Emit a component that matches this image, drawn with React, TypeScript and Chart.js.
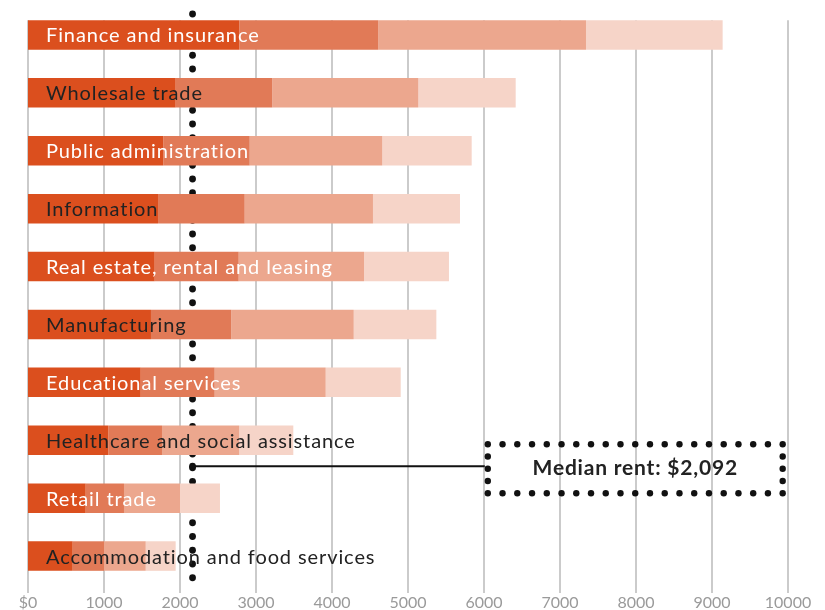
import React, { useEffect, useRef } from "react";
import { Chart, registerables } from "chart.js";

Chart.register(...registerables);

const categories = [
  "Finance and insurance",
  "Wholesale trade",
  "Public administration",
  "Information",
  "Real estate, rental and leasing",
  "Manufacturing",
  "Educational services",
  "Healthcare and social assistance",
  "Retail trade",
  "Accommodation and food services",
];

const segment1 = [2781, 1943, 1781, 1711, 1667, 1618, 1483, 1057, 759, 588];
const segment2 = [1829, 1272, 1136, 1140, 1105, 1057, 973, 706, 504, 412];
const segment3 = [2732, 1921, 1745, 1688, 1649, 1611, 1461, 1017, 737, 549];
const segment4 = [1798, 1281, 1176, 1145, 1118, 1087, 987, 711, 526, 394];

const segmentColors = ["#DB4F1E", "#E17A57", "#ECA78E", "#F6D4C8"];
const labelColors = ["#ffffff", "#222222"];

const xTicks = [0, 1000, 2000, 3000, 4000, 5000, 6000, 7000, 8000, 9000, 10000];
const medianRent = 2092;
const medianLineValue = 2165;
const calloutLeftValue = 6050;
const calloutRightValue = 9930;

const fmtTick = (v: number) => (v === 0 ? "$0" : String(v));

const overlayPlugin = {
  id: "overlay",
  beforeDatasetsDraw(chart: any) {
    const { ctx, chartArea, scales } = chart;
    const x = scales.x;
    const meta = chart.getDatasetMeta(0);
    const first = meta.data[0];
    const top = first.y - first.height / 2;
    ctx.save();
    ctx.strokeStyle = "#cbcbcb";
    ctx.lineWidth = 2;
    xTicks.forEach((t) => {
      const px = Math.round(x.getPixelForValue(t));
      ctx.beginPath();
      ctx.moveTo(px, top);
      ctx.lineTo(px, chartArea.bottom + 8);
      ctx.stroke();
    });
    const mx = x.getPixelForValue(medianLineValue);
    ctx.fillStyle = "#111";
    for (let y = 14; y <= chartArea.bottom + 6; y += 13.75) {
      ctx.beginPath();
      ctx.arc(mx, y, 3.4, 0, Math.PI * 2);
      ctx.fill();
    }
    ctx.restore();
  },
  afterDatasetsDraw(chart: any) {
    const { ctx, chartArea, scales } = chart;
    const x = scales.x;
    const y = scales.y;
    const meta = chart.getDatasetMeta(0);
    ctx.save();
    ctx.font = "20px Lato";
    ctx.textBaseline = "middle";
    ctx.textAlign = "left";
    try {
      (ctx as any).letterSpacing = "0.9px";
    } catch (e) {}
    categories.forEach((c, i) => {
      const bar = meta.data[i];
      ctx.fillStyle = labelColors[i % 2];
      ctx.fillText(c, chartArea.left + 18, bar.y + 1);
    });

    const cy = (y.getPixelForValue(7) + y.getPixelForValue(8)) / 2 - 3;
    const mx = x.getPixelForValue(medianLineValue);
    const bl = x.getPixelForValue(calloutLeftValue);
    const br = x.getPixelForValue(calloutRightValue);
    const bt = cy - 22;
    const bb = cy + 27;
    ctx.strokeStyle = "#111";
    ctx.lineWidth = 2;
    ctx.beginPath();
    ctx.moveTo(mx, cy);
    ctx.lineTo(bl - 3, cy);
    ctx.stroke();
    ctx.fillStyle = "#111";
    ctx.beginPath();
    ctx.arc(mx, cy, 3.4, 0, Math.PI * 2);
    ctx.fill();
    const nH = 21;
    for (let k = 0; k < nH; k++) {
      const px = bl + ((br - bl) * k) / (nH - 1);
      [bt, bb].forEach((py) => {
        ctx.beginPath();
        ctx.arc(px, py, 3.2, 0, Math.PI * 2);
        ctx.fill();
      });
    }
    const nV = 5;
    for (let k = 1; k < nV - 1; k++) {
      const py = bt + ((bb - bt) * k) / (nV - 1);
      [bl, br].forEach((px) => {
        ctx.beginPath();
        ctx.arc(px, py, 3.2, 0, Math.PI * 2);
        ctx.fill();
      });
    }
    try {
      (ctx as any).letterSpacing = "0.8px";
    } catch (e) {}
    ctx.fillStyle = "#222";
    ctx.font = "bold 21px Lato";
    ctx.textAlign = "center";
    ctx.textBaseline = "middle";
    ctx.fillText(
      "Median rent: $" + medianRent.toLocaleString("en-US"),
      (bl + br) / 2,
      (bt + bb) / 2
    );
    ctx.restore();
  },
};

export default function App() {
  const ref = useRef<HTMLCanvasElement | null>(null);
  useEffect(() => {
    if (!ref.current) return;
    const series = [segment1, segment2, segment3, segment4];
    const chart = new Chart(ref.current, {
      type: "bar",
      data: {
        labels: categories,
        datasets: series.map((d, i) => ({
          label: "Segment " + (i + 1),
          data: d,
          backgroundColor: segmentColors[i],
          borderWidth: 0,
          barPercentage: 0.51,
          categoryPercentage: 1,
        })),
      },
      options: {
        indexAxis: "y",
        animation: false,
        responsive: false,
        maintainAspectRatio: false,
        layout: { padding: { left: 28, right: 37, top: 6, bottom: 0 } },
        plugins: { legend: { display: false }, tooltip: { enabled: false } },
        scales: {
          x: {
            stacked: true,
            min: 0,
            max: 10000,
            border: { display: false },
            grid: { display: false, drawTicks: false },
            afterBuildTicks: (axis: any) => {
              axis.ticks = xTicks.map((v) => ({ value: v }));
            },
            afterFit: (axis: any) => {
              axis.height = 25;
            },
            ticks: {
              padding: 8,
              color: "#9a9a9a",
              font: { family: "Lato", size: 16 },
              maxRotation: 0,
              callback: (v: any) => fmtTick(Number(v)),
            },
          },
          y: {
            stacked: true,
            display: false,
          },
        },
      },
      plugins: [overlayPlugin],
    });
    return () => chart.destroy();
  }, []);
  return (
    <div style={{ position: "fixed", left: 0, top: 0, width: 825, height: 610, background: "#fff" }}>
      <canvas ref={ref} width={825} height={610} style={{ width: 825, height: 610, display: "block" }} />
    </div>
  );
}
